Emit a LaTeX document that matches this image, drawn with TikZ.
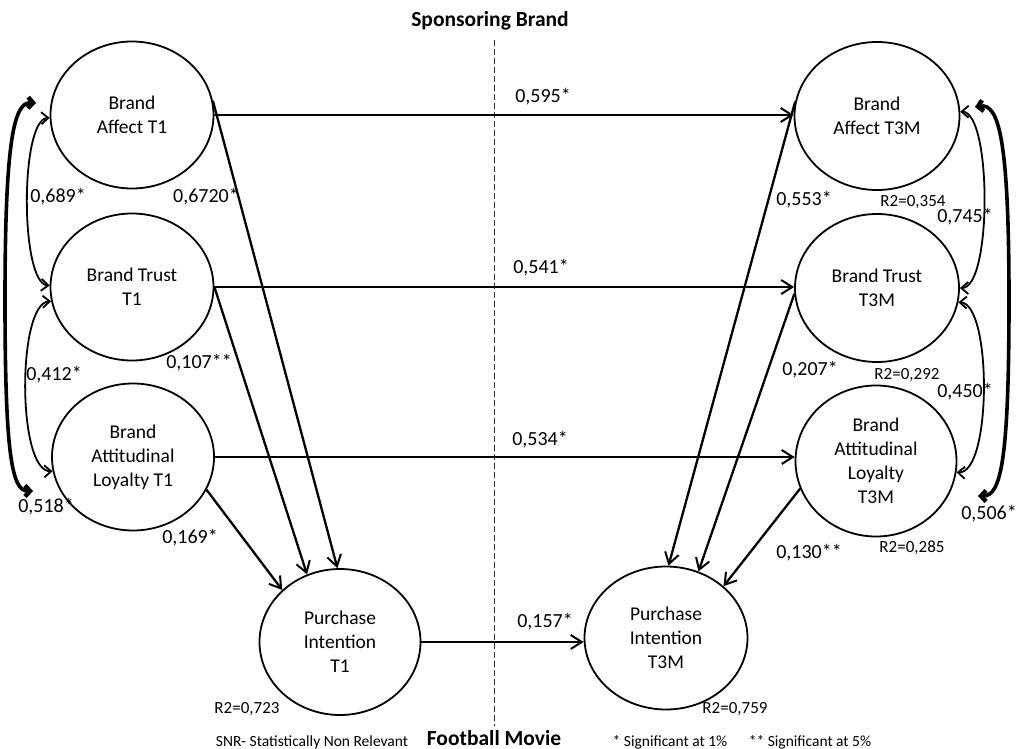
\documentclass[tikz,border=0pt]{standalone}
\usepackage{fontspec}
\setmainfont{Carlito}
\usetikzlibrary{shapes.geometric,arrows.meta}
\begin{document}
\begin{tikzpicture}[x=1pt,y=-1pt,
  construct/.style={draw, ellipse, line width=1.8pt, inner sep=0pt, align=center,
    font=\fontsize{19.5}{24}\selectfont},
  effect/.style={line width=2.3pt, -{Straight Barb[length=11pt,width=14pt,line width=2pt]}},
  corr/.style={line width=1.8pt, {Straight Barb[length=7pt,width=12pt]}-{Straight Barb[length=7pt,width=12pt]}},
  outercorr/.style={line width=3.6pt, {Straight Barb[length=5pt,width=11pt,line width=4.5pt]}-{Straight Barb[length=5pt,width=11pt,line width=4.5pt]}},
  coef/.style={inner sep=0pt, font=\fontsize{20}{22}\selectfont},
  rsq/.style={inner sep=0pt, font=\fontsize{17}{20}\selectfont},
  legend/.style={inner sep=0pt, font=\fontsize{15.5}{18}\selectfont},
  heading/.style={inner sep=0pt, font=\fontsize{21.5}{24}\selectfont\bfseries}
]
\useasboundingbox (0,0) rectangle (1018,749);

% divider between the two measurement times
\coordinate (divtop) at (494,40);
\coordinate (divbot) at (494,726);
\draw[line width=1pt, dash pattern=on 6pt off 3pt, black!80] (divtop) -- (divbot);

% constructs at T1
\node[construct, minimum width=163pt, minimum height=147pt] (BA1) at (132,115) {Brand\\Affect T1};
\node[construct, minimum width=163pt, minimum height=147pt] (BT1) at (132,287) {Brand Trust\\T1};
\node[construct, minimum width=162pt, minimum height=147pt] (BAL1) at (133,457) {Brand\\Attitudinal\\Loyalty T1};
\node[construct, minimum width=161pt, minimum height=146pt] (PI1) at (340,642) {Purchase\\Intention\\T1};

% constructs at T3M
\node[construct, minimum width=165pt, minimum height=148pt] (BA3) at (877,116) {Brand\\Affect T3M};
\node[construct, minimum width=164pt, minimum height=148pt] (BT3) at (877,288) {Brand Trust\\T3M};
\node[construct, minimum width=161pt, minimum height=151pt] (BAL3) at (876,461) {Brand\\Attitudinal\\Loyalty\\T3M};
\node[construct, minimum width=163pt, minimum height=143pt] (PI3) at (666,638) {Purchase\\Intention\\T3M};

% stability paths
\draw[effect] (BA1.east) -- (BA1.east -| BA3.west);
\draw[effect] (BT1.east) -- (BT1.east -| BT3.west);
\draw[effect] (BAL1.east) -- (BAL1.east -| BAL3.west);
\draw[effect] (PI1.east) -- (PI1.east -| PI3.west);

% paths to purchase intention
\draw[effect] (BA1.10) -- (PI1.92);
\draw[effect] (BT1.east) -- (PI1.116);
\draw[effect] (BAL1.-24) -- (PI1.138);
\draw[effect] (BA3.170) -- (PI3.88);
\draw[effect] (BT3.184) -- (PI3.64);
\draw[effect] (BAL3.200) -- (PI3.42);

% correlations at T1
\draw[corr] (BA1.182) .. controls (20,119) and (20,283) .. (BT1.179);
\draw[corr] (BT1.190) .. controls (17,303) and (17,472) .. (BAL1.190);
\coordinate (LT) at (36,103);
\coordinate (LB) at (33,491);
\draw[outercorr] (LT) .. controls (14,102) and (5,140) .. (5,300)
                      .. controls (5,455) and (12,491) .. (LB);

% correlations at T3M
\draw[corr] (BA3.3) .. controls (992,112) and (992,288) .. (BT3.east);
\draw[corr] (BT3.-10) .. controls (992,303) and (992,474) .. (BAL3.-8);
\coordinate (RT) at (975,107);
\coordinate (RB) at (978,496);
\draw[outercorr] (RT) .. controls (999,103) and (1009,140) .. (1009,300)
                      .. controls (1009,460) and (1001,496) .. (RB);

% coefficients
\node[coef] (c595) at (543,97) {0,595*};
\node[coef] (c541) at (541,268) {0,541*};
\node[coef] (c534) at (540,440) {0,534*};
\node[coef] (c157) at (545,622) {0,157*};
\node[coef] (c6720) at (206,197) {0,6720*};
\node[coef] (c107) at (199,363) {0,107**};
\node[coef] (c169) at (190,538) {0,169*};
\node[coef] (c689) at (58,197) {0,689*};
\node[coef] (c412) at (54,375) {0,412*};
\node[coef] (c518) at (46,507) {0,518*};
\node[coef] (c553) at (804,200) {0,553*};
\node[coef] (c207) at (810,370) {0,207*};
\node[coef] (c130) at (809,553) {0,130**};
\node[coef] (c745) at (965,217) {0,745*};
\node[coef] (c450) at (965,392) {0,450*};
\node[coef, anchor=east] (c506) at (1017,514) {0,506*};

% explained variance
\node[rsq] (r354) at (913,202) {R2=0,354};
\node[rsq] (r292) at (907,375) {R2=0,292};
\node[rsq] (r285) at (912,548) {R2=0,285};
\node[rsq] (r723) at (247,709) {R2=0,723};
\node[rsq] (r759) at (735,709) {R2=0,759};

% headings and notes
\node[heading] (top) at (490,21) {Sponsoring Brand};
\node[heading] (bottom) at (494,738) {Football Movie};
\node[legend] (snr) at (312,742) {SNR- Statistically Non Relevant};
\node[legend] (sig1) at (670,742) {* Significant at 1\%};
\node[legend] (sig5) at (810,742) {** Significant at 5\%};
\end{tikzpicture}
\end{document}
